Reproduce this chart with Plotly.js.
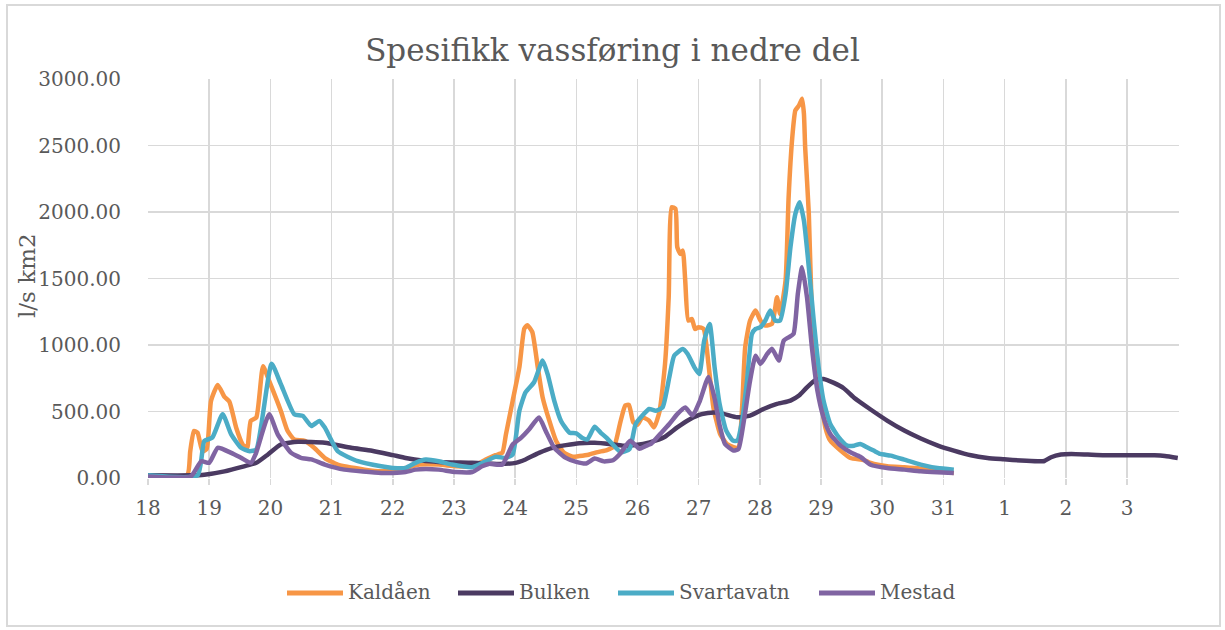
<!DOCTYPE html>
<html>
<head>
<meta charset="utf-8">
<script src="https://cdn.plot.ly/plotly-3.0.1.min.js"></script>
<style>
  html, body { margin: 0; padding: 0; background: #ffffff; }
  #wrap { position: relative; width: 1225px; height: 630px; }
  #chart { position: absolute; left: 0; top: 0; width: 1225px; height: 630px; }
  #frame { position: absolute; left: 6px; top: 4px; width: 1211px; height: 619px; border: 2px solid #d9d9d9; pointer-events: none; }
</style>
</head>
<body>
<div id="wrap"><div id="chart"></div><div id="frame"></div></div>
<script>
// Time in days after 18th 00:00
var tickDays = [0,1,2,3,4,5,6,7,8,9,10,11,12,13,14,15,16];
var tickLabels = ["18","19","20","21","22","23","24","25","26","27","28","29","30","31","1","2","3"];
var seriesNames = ["Kaldåen","Bulken","Svartavatn","Mestad"];
var yTitle = "l/s km2";
var chartTitle = "Spesifikk vassføring i nedre del";

var kaldaenT = [0,0.64,0.69,0.75,0.81,0.89,0.96,1.03,1.14,1.25,1.33,1.44,1.55,1.62,1.68,1.77,1.88,1.98,2.17,2.28,2.39,2.56,2.72,2.89,3.10,3.54,3.81,4.0,4.21,4.43,4.75,5.03,5.30,5.52,5.68,5.79,5.85,5.96,6.07,6.15,6.20,6.28,6.37,6.45,6.56,6.67,6.80,6.94,7.05,7.2,7.35,7.5,7.62,7.72,7.80,7.86,7.93,8.0,8.08,8.19,8.27,8.36,8.45,8.51,8.56,8.62,8.65,8.70,8.74,8.78,8.83,8.89,8.94,9.00,9.08,9.16,9.24,9.35,9.46,9.57,9.65,9.71,9.76,9.84,9.93,10.01,10.09,10.20,10.28,10.33,10.42,10.47,10.53,10.58,10.64,10.69,10.72,10.74,10.80,10.85,10.91,10.99,11.07,11.15,11.32,11.48,11.70,11.81,12.08,12.36,12.63,12.90,13.17];
var kaldaenV = [20,20,200,354,340,200,220,580,700,610,575,380,250,225,430,455,840,730,505,355,290,280,225,150,100,63,50,63,76,101,101,88,88,139,172,189,328,580,833,1123,1149,1098,833,606,429,278,190,160,165,175,195,210,240,420,545,550,420,400,456,431,381,500,858,1359,2036,2024,1736,1685,1710,1485,1184,1196,1121,1134,1121,858,532,331,256,231,231,532,983,1184,1259,1184,1146,1160,1359,1234,1485,2112,2563,2764,2801,2852,2739,2488,1986,1234,858,607,381,281,206,150,135,113,88,80,70,55,38];

var bulkenT = [0,0.70,0.92,1.25,1.57,1.77,1.96,2.17,2.45,2.89,3.32,3.66,4.0,4.21,4.48,4.75,5.30,5.74,6.01,6.17,6.39,6.61,6.83,7.05,7.3,7.54,7.76,7.97,8.2,8.45,8.65,8.85,9.05,9.25,9.41,9.63,9.84,10.06,10.28,10.50,10.64,10.77,10.91,11.04,11.21,11.37,11.54,11.81,12.08,12.36,12.63,12.90,13.17,13.45,13.72,13.99,14.27,14.54,14.65,14.76,14.92,15.09,15.36,15.63,16.18,16.45,16.62,16.83];
var bulkenV = [20,20,25,50,88,114,177,252,272,265,227,205,172,151,131,121,114,106,114,139,189,227,247,262,265,256,243,248,268,310,380,440,480,492,482,456,469,519,557,582,620,682,737,745,715,675,603,515,432,357,297,246,206,171,151,141,131,126,128,156,176,181,176,171,171,171,166,151];

var svartT = [0,0.81,0.92,1.05,1.22,1.36,1.52,1.66,1.77,2.02,2.17,2.39,2.53,2.67,2.80,2.89,3.10,3.43,3.81,4.0,4.21,4.37,4.54,4.75,4.97,5.30,5.52,5.68,5.85,5.96,6.07,6.17,6.31,6.45,6.53,6.64,6.75,6.89,7.0,7.1,7.18,7.3,7.4,7.5,7.6,7.73,7.87,7.97,8.08,8.19,8.30,8.41,8.52,8.60,8.74,8.82,8.93,9.01,9.09,9.18,9.26,9.34,9.45,9.56,9.63,9.71,9.79,9.87,9.93,10.01,10.09,10.17,10.25,10.33,10.42,10.50,10.58,10.65,10.72,10.80,10.88,10.96,11.04,11.15,11.29,11.43,11.54,11.64,11.75,11.86,11.97,12.14,12.36,12.63,12.90,13.17];
var svartV = [20,20,278,303,480,328,227,202,215,859,707,480,467,391,429,379,202,126,88,76,76,114,139,126,101,81,126,159,151,177,505,644,720,884,783,580,429,340,336,300,290,386,340,300,250,193,218,406,469,519,506,531,757,920,970,932,832,782,1032,1158,832,560,356,281,281,431,732,1083,1121,1134,1184,1259,1184,1184,1384,1736,1986,2074,1936,1585,1184,833,582,406,306,243,243,256,231,206,181,168,138,101,75,63];

var mestadT = [0,0.70,0.87,1.0,1.14,1.36,1.52,1.68,1.76,1.98,2.12,2.34,2.50,2.67,2.89,3.21,3.81,4.0,4.21,4.37,4.54,4.75,5.03,5.30,5.46,5.57,5.79,5.96,6.10,6.23,6.39,6.50,6.64,6.83,7.0,7.16,7.3,7.45,7.6,7.72,7.88,8.03,8.13,8.23,8.37,8.52,8.65,8.78,8.90,9.02,9.16,9.26,9.34,9.43,9.57,9.65,9.73,9.84,9.93,10.01,10.12,10.20,10.31,10.39,10.47,10.55,10.62,10.69,10.77,10.85,10.94,11.04,11.15,11.32,11.48,11.64,11.81,12.08,12.36,12.63,12.90,13.17];
var mestadV = [12,12,126,114,227,189,152,114,180,480,328,189,152,140,101,63,38,38,45,63,68,63,45,45,88,106,101,252,303,366,455,354,227,151,121,109,146,125,134,184,280,220,240,260,330,406,480,530,470,580,760,600,400,256,206,218,406,732,920,858,933,971,883,1033,1058,1083,1384,1585,1359,983,657,456,331,243,193,160,100,75,63,50,43,38];

var colors = ["#F79646","#4B3A62","#4BACC6","#8064A2"];
var font = "'DejaVu Serif', serif";
var textColor = '#595959';
var xs = [kaldaenT, bulkenT, svartT, mestadT];
var ys = [kaldaenV, bulkenV, svartV, mestadV];

var traces = seriesNames.map(function(n, i) {
  return {
    x: xs[i], y: ys[i], name: n, type: 'scatter', mode: 'lines', showlegend: false,
    line: {color: colors[i], width: 4.5, shape: 'spline', smoothing: 0.5}
  };
});

// Custom legend and axis title (pixel layout converted to paper coords of the plot area)
var plotL = 148, plotR = 1179, plotT = 79, plotB = 478;
var pw = plotR - plotL, ph = plotB - plotT;
function px2x(p) { return (p - plotL) / pw; }
function py2y(p) { return (plotB - p) / ph; }
var legStart = [287, 458, 618, 819];
var legLineLen = 56, legY = 593;
var shapes = [], annotations = [];
seriesNames.forEach(function(n, i) {
  shapes.push({type: 'line', xref: 'paper', yref: 'paper',
    x0: px2x(legStart[i]), x1: px2x(legStart[i] + legLineLen), y0: py2y(legY), y1: py2y(legY),
    line: {color: colors[i], width: 5}});
  annotations.push({xref: 'paper', yref: 'paper', x: px2x(legStart[i] + legLineLen + 3), y: py2y(legY - 1),
    xanchor: 'left', yanchor: 'middle', text: n, showarrow: false,
    font: {family: font, size: 20, color: textColor}});
});
annotations.push({xref: 'paper', yref: 'paper', x: px2x(27), y: py2y(276), xanchor: 'center', yanchor: 'middle',
  text: yTitle, textangle: -90, showarrow: false, font: {family: font, size: 23, color: textColor}});

var layout = {
  width: 1225, height: 630,
  margin: {l: plotL, r: 1225 - plotR, t: plotT, b: 630 - plotB},
  paper_bgcolor: '#ffffff', plot_bgcolor: '#ffffff',
  font: {family: font, color: textColor, size: 20},
  title: {text: chartTitle, font: {family: font, size: 31, color: textColor},
          x: 0.5, xanchor: 'center', xref: 'container', y: 0.921, yanchor: 'middle', yref: 'container'},
  showlegend: false,
  shapes: shapes,
  annotations: annotations,
  xaxis: {
    range: [0, 16.85], tickmode: 'array', tickvals: tickDays, ticktext: tickLabels,
    showgrid: true, gridcolor: '#d9d9d9', gridwidth: 1.5, zeroline: false,
    ticks: 'outside', ticklen: 6, tickcolor: '#d9d9d9', tickwidth: 1.5,
    showline: false, ticklabelstandoff: 6,
    tickfont: {family: font, size: 20, color: textColor}
  },
  yaxis: {
    range: [0, 3000], dtick: 500, tickformat: '.2f',
    showgrid: true, gridcolor: '#d9d9d9', gridwidth: 1.5, zeroline: false,
    ticks: 'outside', ticklen: 22, tickcolor: 'rgba(0,0,0,0)', showline: false,
    tickfont: {family: font, size: 20, color: textColor}
  }
};

Plotly.newPlot('chart', traces, layout, {displayModeBar: false, staticPlot: true});
</script>
</body>
</html>
